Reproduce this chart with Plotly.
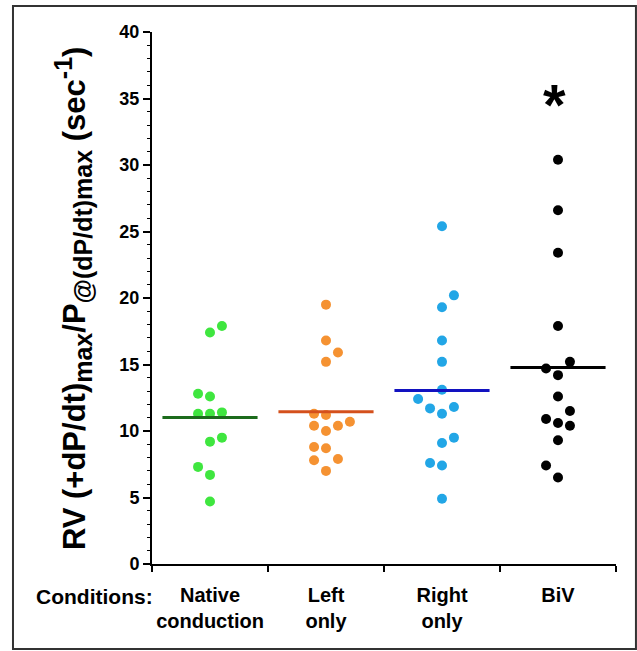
import numpy as np
import plotly.graph_objects as go

categories = ["Native<br>conduction", "Left<br>only", "Right<br>only", "BiV"]

native_vals = [17.9, 17.4, 12.8, 12.6, 11.3, 11.3, 11.4, 9.5, 9.2, 7.3, 6.7, 4.7]
native_cols = [1, 0, -1, 0, -1, 0, 1, 1, 0, -1, 0, 0]

left_vals = [19.5, 16.8, 15.9, 15.2, 11.3, 11.2, 10.4, 10.4, 10.7, 10.0, 8.8, 8.7, 7.9, 7.8, 7.0]
left_cols = [0, 0, 1, 0, -1, 0, -1, 1, 2, 0, -1, 0, 1, -1, 0]

right_vals = [25.4, 20.2, 19.3, 16.8, 15.2, 13.1, 12.4, 11.8, 11.7, 11.3, 9.5, 9.1, 7.6, 7.4, 4.9]
right_cols = [0, 1, 0, 0, 0, 0, -2, 1, -1, 0, 1, 0, -1, 0, 0]

biv_vals = [30.4, 26.6, 23.4, 17.9, 15.2, 14.7, 14.2, 12.6, 11.5, 10.9, 10.6, 10.4, 9.3, 7.4, 6.5]
biv_cols = [0, 0, 0, 0, 1, -1, 0, 0, 1, -1, 0, 1, 0, -1, 0]

series = [
    (native_vals, native_cols, "#3fe63f", "#1c6b1c"),
    (left_vals, left_cols, "#f59232", "#d4501c"),
    (right_vals, right_cols, "#22a6e6", "#1212c0"),
    (biv_vals, biv_cols, "#000000", "#000000"),
]

FONT = "Liberation Sans, Arial, sans-serif"
step = 0.103
half = 0.41

fig = go.Figure()
for i, (vals, cols, mcol, lcol) in enumerate(series):
    xs = [i + c * step for c in cols]
    fig.add_trace(go.Scatter(x=xs, y=vals, mode="markers",
                             marker=dict(color=mcol, size=10, line=dict(width=0)),
                             showlegend=False))
    m = float(np.mean(vals))
    fig.add_trace(go.Scatter(x=[i - half, i + half], y=[m, m], mode="lines",
                             line=dict(color=lcol, width=3), showlegend=False))

fig.update_layout(
    width=637, height=651,
    margin=dict(l=152, r=21, t=32, b=87),
    paper_bgcolor="white", plot_bgcolor="white",
    font=dict(family=FONT, color="black"),
    xaxis=dict(range=[-0.5, 3.5], tickvals=[0, 1, 2, 3], ticktext=categories,
               ticks="", showgrid=False, zeroline=False, ticklabelstandoff=12,
               showline=True, linecolor="black", linewidth=2,
               tickfont=dict(family=FONT, size=20, weight="bold", color="black"),
               minor=dict(tickvals=[-0.5, 0.5, 1.5, 2.5, 3.5], ticks="outside",
                          ticklen=6, tickwidth=1.5, tickcolor="black", showgrid=False)),
    yaxis=dict(range=[0, 40], tickvals=[0, 5, 10, 15, 20, 25, 30, 35, 40],
               ticks="outside", ticklen=7, tickwidth=1.5, tickcolor="black",
               showgrid=False, zeroline=False,
               showline=True, linecolor="black", linewidth=2,
               tickfont=dict(family=FONT, size=18, weight="bold", color="black"),
               minor=dict(dtick=1, ticks="outside", ticklen=3, tickwidth=1.2,
                          tickcolor="black", showgrid=False)),
)

title = ("RV (+dP/dt)<sub><span style='font-size:25px'>max</span></sub>"
         "/P<sub><span style='font-size:25px'>@(dP/dt)max</span></sub>"
         " (sec<sup><span style='font-size:25px'>-1</span></sup>)")
fig.add_annotation(xref="paper", yref="paper", x=-0.17, y=0.5,
                   xanchor="center", yanchor="middle",
                   text=title, textangle=-90, showarrow=False,
                   font=dict(family=FONT, size=31, weight="bold", color="black"))
fig.add_annotation(xref="paper", yref="paper", x=0.0065, y=-0.062,
                   xanchor="right", yanchor="middle", text="Conditions:", showarrow=False,
                   font=dict(family=FONT, size=21, weight="bold", color="black"))
fig.add_annotation(x=2.97, y=35, text="*", showarrow=False, yanchor="middle",
                   yshift=-6,
                   font=dict(family=FONT, size=58, weight="bold", color="black"))

fig.add_shape(type="rect", xref="paper", yref="paper",
              x0=-0.2996, x1=1.043, y0=-0.1598, y1=1.0489,
              line=dict(color="#333333", width=2))

fig.write_html("out.html")
